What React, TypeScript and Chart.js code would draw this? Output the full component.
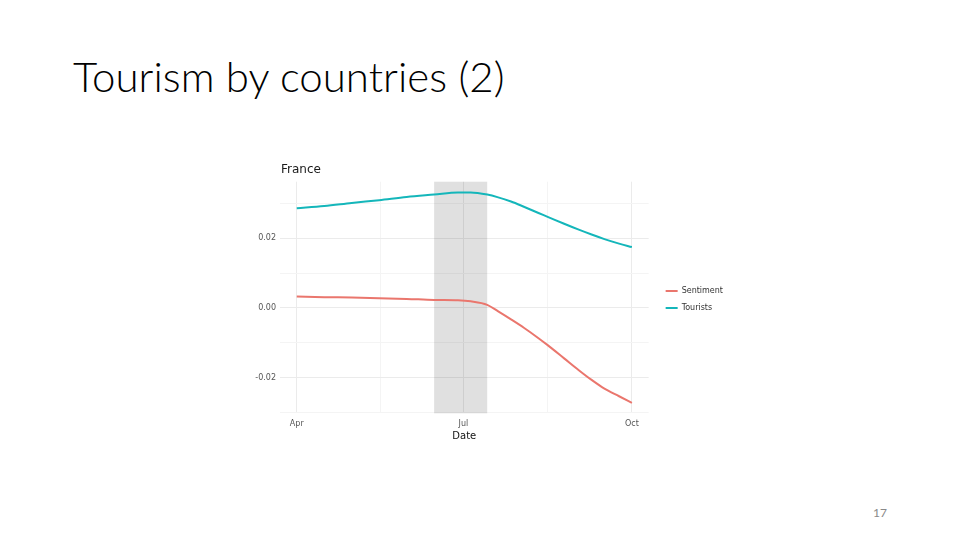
import React, { useEffect, useRef } from 'react';
import { Chart, registerables } from 'chart.js';

Chart.register(...registerables);

// days counted from 1 April
const days = [0, 15, 30, 45, 60, 75, 88, 95, 104, 110, 117, 124, 132, 137, 146, 154, 161, 168, 176, 183];
const sentiment = [0.0033, 0.0031, 0.003, 0.0028, 0.0026, 0.0023, 0.0022, 0.0019, 0.0009, -0.001, -0.0033, -0.0057, -0.0087, -0.0107, -0.0145, -0.0179, -0.0207, -0.0232, -0.0254, -0.0273];
const tourists = [0.0287, 0.0293, 0.0302, 0.031, 0.0319, 0.0326, 0.0332, 0.0332, 0.0326, 0.0318, 0.0306, 0.0291, 0.0273, 0.0262, 0.0242, 0.0225, 0.0211, 0.0198, 0.0185, 0.0175];

const majorXTicks = [0, 91, 183];
const xTickLabels = ['Apr', 'Jul', 'Oct'];
const minorXTicks = [45.5, 137];
const majorYTicks = [-0.02, 0, 0.02];
const minorYTicks = [-0.03, -0.01, 0.01, 0.03];

// highlighted period: 15 June – 14 July
const shadeStart = 75;
const shadeEnd = 104;

const AXIS_FONT = '"DejaVu Sans", sans-serif';

const shadePlugin = {
  id: 'shade',
  beforeDatasetsDraw(chart: Chart) {
    const { ctx, chartArea, scales } = chart;
    const x0 = scales.x.getPixelForValue(shadeStart);
    const x1 = scales.x.getPixelForValue(shadeEnd);
    ctx.save();
    ctx.fillStyle = 'rgba(0,0,0,0.12)';
    ctx.fillRect(x0, chartArea.top, x1 - x0, chartArea.bottom - chartArea.top);
    ctx.restore();
  },
  afterDraw(chart: Chart) {
    const { ctx, chartArea } = chart;
    ctx.save();
    ctx.font = '12px ' + AXIS_FONT;
    ctx.fillStyle = '#1a1a1a';
    ctx.textBaseline = 'middle';
    ctx.fillText('France', chartArea.left + 1, 19.5);
    ctx.restore();
  },
};

function FranceChart() {
  const canvasRef = useRef<HTMLCanvasElement>(null);

  useEffect(() => {
    if (!canvasRef.current) return;

    const isMajorY = (v: number) => majorYTicks.some((t) => Math.abs(t - v) < 1e-6);
    const isMajorX = (v: number) => majorXTicks.includes(v);

    const chart = new Chart(canvasRef.current, {
      type: 'line',
      data: {
        datasets: [
          {
            label: 'Sentiment',
            data: days.map((d, i) => ({ x: d, y: sentiment[i] })),
            borderColor: '#ea766d',
            backgroundColor: '#ea766d',
            borderWidth: 2,
            pointRadius: 0,
            cubicInterpolationMode: 'monotone',
          },
          {
            label: 'Tourists',
            data: days.map((d, i) => ({ x: d, y: tourists[i] })),
            borderColor: '#14b6ba',
            backgroundColor: '#14b6ba',
            borderWidth: 2,
            pointRadius: 0,
            cubicInterpolationMode: 'monotone',
          },
        ],
      },
      options: {
        animation: false,
        responsive: true,
        maintainAspectRatio: false,
        layout: { padding: { top: 31.7, right: 7, bottom: 0, left: 0 } },
        scales: {
          x: {
            type: 'linear',
            min: -9.15,
            max: 192.15,
            afterBuildTicks: (scale: any) => {
              scale.ticks = [...majorXTicks, ...minorXTicks].sort((a, b) => a - b).map((v) => ({ value: v }));
            },
            afterFit: (scale: any) => {
              scale.height = 36.7;
            },
            border: { display: false },
            grid: {
              drawTicks: false,
              color: (ctx: any) => (ctx.tick && isMajorX(ctx.tick.value) ? '#ebebeb' : '#f4f4f4'),
            },
            ticks: {
              padding: 6,
              maxRotation: 0,
              autoSkip: false,
              color: '#555555',
              font: { family: AXIS_FONT, size: 8 },
              callback: (v: any) => {
                const i = majorXTicks.indexOf(Number(v));
                return i >= 0 ? xTickLabels[i] : '';
              },
            },
            title: {
              display: true,
              text: 'Date',
              color: '#111111',
              font: { family: AXIS_FONT, size: 10 },
              padding: { top: 0, bottom: 8 },
            },
          },
          y: {
            type: 'linear',
            min: -0.0303,
            max: 0.0363,
            afterBuildTicks: (scale: any) => {
              scale.ticks = [...majorYTicks, ...minorYTicks].sort((a, b) => a - b).map((v) => ({ value: v }));
            },
            afterFit: (scale: any) => {
              scale.width = 40;
            },
            border: { display: false },
            grid: {
              drawTicks: false,
              color: (ctx: any) => (ctx.tick && isMajorY(ctx.tick.value) ? '#ebebeb' : '#f4f4f4'),
            },
            ticks: {
              padding: 4,
              autoSkip: false,
              color: '#555555',
              font: { family: AXIS_FONT, size: 8 },
              callback: (v: any) => (isMajorY(Number(v)) ? Number(v).toFixed(2) : ''),
            },
          },
          // empty spacer between the panel and the legend
          gap: {
            type: 'linear',
            position: 'right',
            min: 0,
            max: 1,
            grid: { display: false },
            border: { display: false },
            ticks: { display: false },
            afterFit: (scale: any) => {
              scale.width = 8;
            },
          },
        },
        plugins: {
          legend: {
            position: 'right',
            fullSize: false,
            // blank title, only there to nudge the keys down a little
            title: { display: true, text: '', font: { size: 1 }, padding: { top: 0, bottom: 2.8 } },
            labels: {
              usePointStyle: true,
              pointStyle: 'line',
              pointStyleWidth: 12,
              padding: 9,
              color: '#333333',
              font: { family: AXIS_FONT, size: 8 },
            },
          },
          tooltip: { enabled: false },
        },
      },
      plugins: [shadePlugin],
    });

    return () => {
      chart.destroy();
    };
  }, []);

  return (
    <div style={{ position: 'absolute', left: 240, top: 150, width: 500, height: 300 }}>
      <canvas ref={canvasRef} />
    </div>
  );
}

export default function App() {
  return (
    <div style={{ position: 'fixed', left: 0, top: 0, width: 960, height: 540, background: '#fff', overflow: 'hidden' }}>
      <div
        style={{
          position: 'absolute',
          left: 73,
          top: 55,
          fontFamily: 'Lato, "Open Sans", sans-serif',
          fontWeight: 300,
          fontSize: 42,
          lineHeight: 1,
          color: '#000',
          whiteSpace: 'nowrap',
        }}
      >
        Tourism by countries (2)
      </div>
      <FranceChart />
      <div
        style={{
          position: 'absolute',
          left: 873,
          top: 507,
          fontFamily: 'Lato, sans-serif',
          fontSize: 12,
          lineHeight: 1,
          color: '#898989',
        }}
      >
        17
      </div>
    </div>
  );
}
